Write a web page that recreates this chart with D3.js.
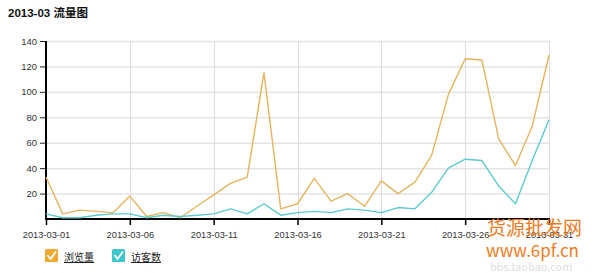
<!DOCTYPE html>
<html><head><meta charset="utf-8">
<script src="https://cdn.jsdelivr.net/npm/d3@7/dist/d3.min.js"></script>
<style>
body{margin:0;background:#fff;font-family:"Liberation Sans",Arial,sans-serif;}
</style></head>
<body>
<svg id="c" width="600" height="273"></svg>
<script>
const title = "2013-03 流量图";
const dates = d3.range(1, 32).map(d => new Date(2013, 2, d));
const pageViews = [33,4,7,6,5,18,2,5,1,10,19,28,33,115,8,12,32,14,20,10,30,20,29,50,98,126,125,63,42,73,129];
const visitors  = [4,1,1,3,4,4,1,3,2,3,4,8,4,12,3,5,6,5,8,7,5,9,8,21,40,47,46,26,12,46,78];
const seriesNames = ["浏览量", "访客数"];
const yTicks = [20,40,60,80,100,120,140];
const xTickDays = [1,6,11,16,21,26,31];

const colors = ["#e6b45e", "#5ccbd0"];
const boxColors = ["#f0a830", "#3cc6cc"];
const svg = d3.select("#c");
const L = 46, R = 549, T = 41, B = 219;
const x = d3.scaleTime().domain([dates[0], dates[30]]).range([L, R]);
const y = d3.scaleLinear().domain([0, 140]).range([B, T]);
const fmt = d3.timeFormat("%Y-%m-%d");

svg.append("text").attr("x", 8).attr("y", 17).attr("font-size", 11.5).attr("font-weight", "bold")
  .attr("fill", "#111").attr("font-family", "'Liberation Sans','Noto Sans CJK SC',sans-serif").text(title);

// grid
const g = svg.append("g");
g.selectAll(".hg").data(yTicks).join("line")
  .attr("x1", L).attr("x2", R + 1).attr("y1", d => y(d) + 0.5).attr("y2", d => y(d) + 0.5)
  .attr("stroke", "#e4e4e4").attr("stroke-width", 1.5);
const xTickDates = xTickDays.map(d => new Date(2013, 2, d));
g.selectAll(".vg").data(xTickDates).join("line")
  .attr("x1", d => Math.round(x(d)) + 0.5).attr("x2", d => Math.round(x(d)) + 0.5)
  .attr("y1", T).attr("y2", B).attr("stroke", "#dcdcdc");

// y axis
const yAxis = d3.axisLeft(y).tickValues(yTicks).tickSize(6).tickSizeOuter(0).tickPadding(3);
const ya = svg.append("g").attr("transform", `translate(${L},0)`).call(yAxis);
ya.select(".domain").remove();
ya.selectAll("text").attr("font-size", 9.5).attr("fill", "#333").attr("font-family", "'Liberation Sans',Arial,sans-serif");
ya.selectAll("line").attr("stroke", "#222");
svg.append("line").attr("x1", L).attr("x2", L).attr("y1", T).attr("y2", B + 1).attr("stroke", "#000").attr("stroke-width", 2);

// x axis
const xAxis = d3.axisBottom(x).tickValues(xTickDates).tickFormat(fmt).tickSize(6).tickSizeOuter(0).tickPadding(6);
const xa = svg.append("g").attr("transform", `translate(0,${B})`).call(xAxis);
xa.select(".domain").remove();
xa.selectAll("text").attr("font-size", 9.3).attr("fill", "#333").attr("font-family", "'Liberation Sans',Arial,sans-serif");
xa.selectAll("line").attr("stroke", "#000").attr("stroke-width", 1.5);
svg.append("line").attr("x1", L - 1).attr("x2", R + 1).attr("y1", B).attr("y2", B).attr("stroke", "#000").attr("stroke-width", 2);

// lines
const line = d3.line().x((d, i) => x(dates[i])).y(d => y(d));
[pageViews, visitors].forEach((s, k) => {
  svg.append("path").datum(s).attr("d", line).attr("fill", "none")
    .attr("stroke", colors[k]).attr("stroke-width", 1.4).attr("stroke-linejoin", "round");
});

// legend
const legX = [45, 112];
const leg = svg.selectAll(".leg").data(seriesNames).join("g")
  .attr("transform", (d, i) => `translate(${legX[i]},249)`);
leg.append("rect").attr("width", 13).attr("height", 13).attr("rx", 1.5).attr("fill", (d, i) => boxColors[i]);
leg.append("path").attr("d", "M2.5,6 L5.5,10 L11,2.5").attr("fill", "none").attr("stroke", "#fff").attr("stroke-width", 1.8);
leg.append("text").attr("x", 19).attr("y", 12).attr("font-size", 10).attr("fill", "#222")
  .attr("font-family", "'Noto Sans CJK SC',sans-serif").attr("text-decoration", "underline").text(d => d);

// watermark
const wm = svg.append("g").attr("fill", "#f07a20").attr("font-family", "'Noto Sans CJK SC',sans-serif");
wm.append("text").attr("x", 487).attr("y", 235).attr("font-size", 19).text("货源批发网");
wm.append("text").attr("x", 486).attr("y", 257).attr("font-size", 17).text("www.6pf.cn");
wm.append("text").attr("x", 490).attr("y", 271).attr("font-size", 11).attr("fill", "#ddd").text("bbs.taobao.com");
</script>
</body></html>
